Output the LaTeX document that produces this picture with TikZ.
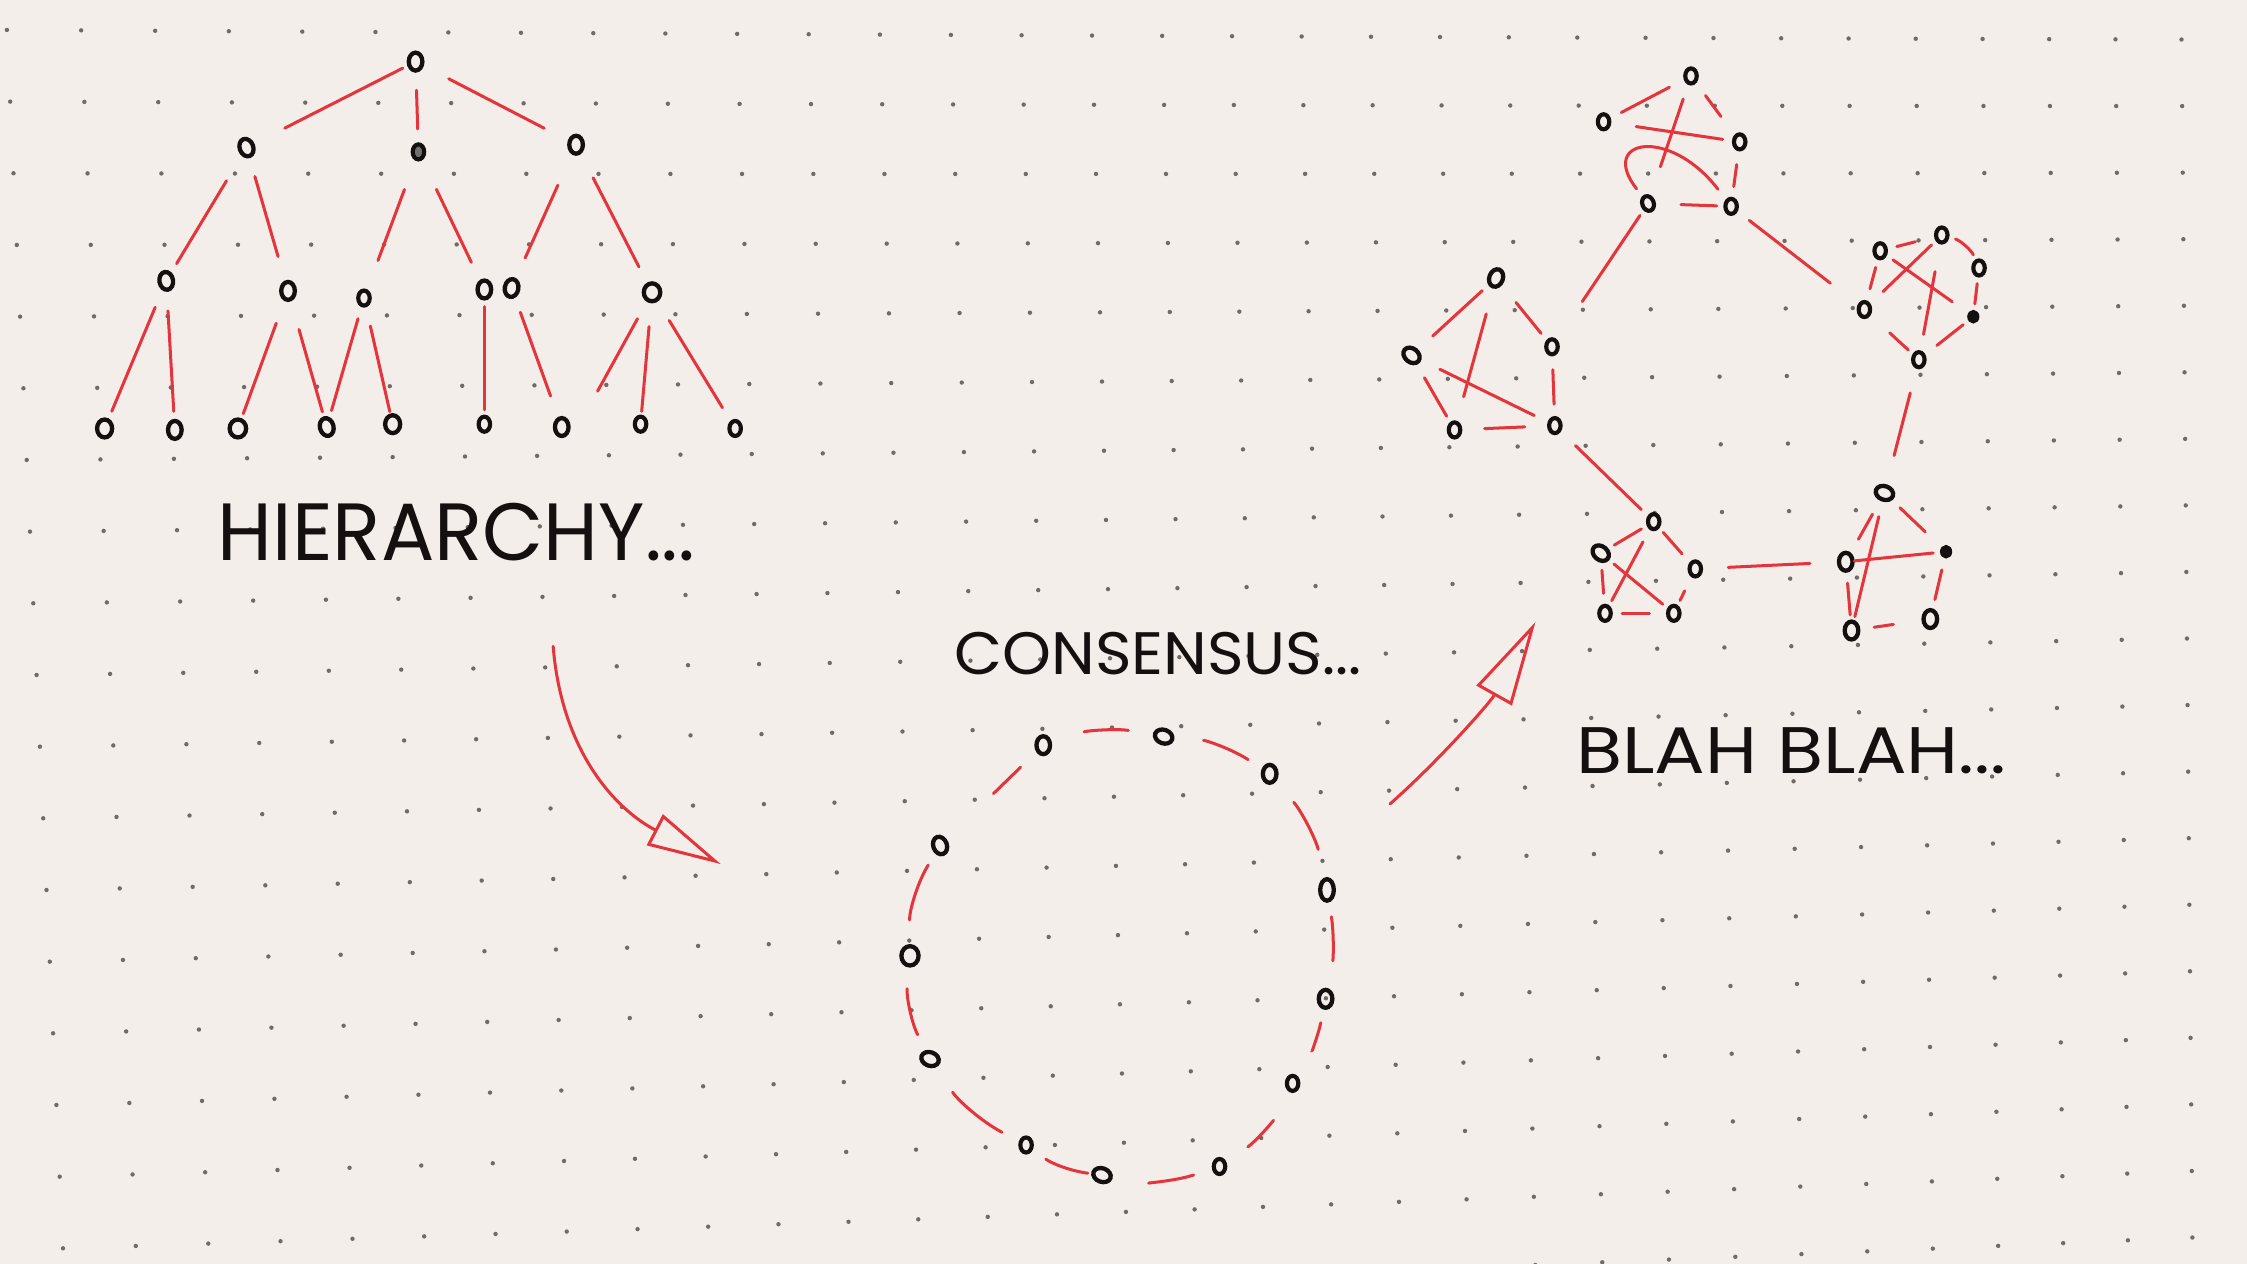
\documentclass[tikz,border=0pt]{standalone}
\usepackage{fontspec}
\setmainfont{Poppins}
\usepackage{graphicx}
\usetikzlibrary{shapes.geometric,arrows.meta}
\definecolor{paper}{RGB}{243,238,233}
\definecolor{pen}{RGB}{228,52,60}
\definecolor{ink}{RGB}{20,16,16}
\definecolor{dotc}{RGB}{112,106,104}
\tikzset{
  nd/.style={ellipse, draw=ink, line width=3pt, minimum width=9.5pt, minimum height=12.5pt, inner sep=0pt},
  nds/.style={ellipse, draw=ink, line width=2.9pt, minimum width=8pt, minimum height=10.5pt, inner sep=0pt},
  ndf/.style={ellipse, draw=ink, fill=ink, line width=1.5pt, minimum width=7pt, minimum height=8pt, inner sep=0pt},
  edge/.style={draw=pen, line width=2.1pt, line cap=round},
  lbl/.style={inner sep=0pt, text=ink},
}
\newcommand{\lnk}[5][]{\draw[edge, shorten <=#4pt, shorten >=#5pt] (#2.center) to[#1] (#3.center);}
\begin{document}
\begin{tikzpicture}[x=1pt,y=-1pt]
\fill[paper] (0,0) rectangle (1568,882);
\useasboundingbox (0,0) rectangle (1568,882);
% dotted paper
\begin{scope}
\clip (0,0) rectangle (1568,882);
\begin{scope}[scale=0.69782]
\foreach \i in {-1,...,31}{
  \foreach \j in {-9,...,10}{
    \pgfmathsetmacro{\dx}{33.3 + 73.7*(\i) - 0.137*(\i)*(\i) + (3.3 - 0.087*(\i))*(\j)}
    \pgfmathsetmacro{\dy}{603.3 - 0.883*(\i) - 0.0041*(\i)*(\i) + (71.67 - 0.165*(\i))*(\j)}
    \fill[dotc] (\dx,\dy) circle (2.2pt);
  }}
\end{scope}
\end{scope}

% ---------- hierarchy tree ----------
\node[nd] (r) at (290,43) {};
\node[nd, rotate=20] (a) at (172,103) {};
\node[nds, fill=ink!60] (b) at (292,106) {};
\node[nd] (c) at (402,101) {};
\node[nd, rotate=10] (d) at (116,196) {};
\node[nd] (e) at (201,203) {};
\node[nds] (f) at (254,208) {};
\node[nd] (g) at (338,202) {};
\node[nd, rotate=-10] (h) at (357,201) {};
\node[nd, minimum width=11.5pt] (k) at (455,204) {};
\node[nd, minimum width=10.5pt] (l1) at (73,299) {};
\node[nd] (l2) at (122,300) {};
\node[nd, minimum width=11.5pt] (l3) at (166,299) {};
\node[nd, rotate=15] (l4) at (228,298) {};
\node[nd, minimum width=10.5pt] (l5) at (274,296) {};
\node[nds] (l6) at (338,296) {};
\node[nd] (l7) at (392,298) {};
\node[nds] (l8) at (447,296) {};
\node[nds] (l9) at (513,299) {};
\coordinate (kx) at (417,273);

\lnk{r}{a}{10}{30}
\lnk{r}{b}{20}{16}
\lnk{r}{c}{26}{25}
\lnk{a}{d}{27}{14}
\lnk{a}{e}{21}{25}
\lnk{b}{f}{28}{28}
\lnk{b}{g}{29}{21}
\lnk{c}{h}{31}{23}
\lnk{c}{k}{26}{20}
\lnk{d}{l1}{20}{13}
\lnk{d}{l2}{21}{13}
\lnk{e}{l3}{24}{11}
\lnk{e}{l4}{28}{11}
\lnk{f}{l4}{15}{12}
\lnk{f}{l5}{20}{9}
\lnk{g}{l6}{12}{10}
\lnk{h}{l7}{18}{23}
\draw[edge, shorten <=21pt] (k.center) -- (kx);
\lnk{k}{l8}{24}{9}
\lnk{k}{l9}{23}{17}

\node[lbl] (hier) at (318.5,371) {\resizebox{333pt}{40pt}{HIERARCHY...}};

% ---------- consensus ring ----------
\node[nd] (n1) at (728,520) {};
\node[nd, rotate=70] (n2) at (812,514) {};
\node[nd] (n3) at (886,540) {};
\node[nd, minimum height=15pt] (n4) at (926,621) {};
\node[nd] (n5) at (925,697) {};
\node[nds] (n6) at (902,756) {};
\node[nds] (n7) at (851,814) {};
\node[nd, rotate=70] (n8) at (769,820) {};
\node[nds] (n9) at (716,799) {};
\node[nd, rotate=70] (n10) at (649,739) {};
\node[nd, minimum width=12pt, minimum height=13.5pt] (n11) at (635,667) {};
\node[nd, rotate=20] (n12) at (656,590) {};

\lnk{n12}{n1}{52}{22}
\lnk[bend left=14]{n1}{n2}{30}{25}
\lnk[bend left=14]{n2}{n3}{28}{18}
\lnk[bend left=14]{n3}{n4}{26}{29}
\lnk[bend left=10]{n4}{n5}{19}{27}
\lnk[bend left=10]{n5}{n6}{17}{27}
\lnk[bend left=14]{n6}{n7}{29}{24}
\lnk[bend left=14]{n7}{n8}{19}{33}
\lnk[bend left=14]{n8}{n9}{10}{17}
\lnk[bend left=14]{n9}{n10}{19}{28}
\lnk[bend left=16]{n10}{n11}{19}{23}
\lnk[bend left=16]{n11}{n12}{25}{16}

\node[lbl] (cons) at (808,456) {\resizebox{284pt}{29.5pt}{CONSENSUS...}};

% ---------- network ----------
% cluster A
\node[nds] (a1) at (1180,53) {};
\node[nds] (a2) at (1119,85) {};
\node[nds] (a3) at (1214,99) {};
\node[nds, rotate=20] (a4) at (1150,142) {};
\node[nds] (a5) at (1208,144) {};
\lnk{a2}{a1}{14}{17}
\lnk{a1}{a3}{17}{22}
\lnk{a2}{a3}{23}{12}
\lnk{a1}{a4}{17}{27}
\draw[edge, shorten <=13pt, shorten >=15pt] (a4.center) .. controls (1115,97) and (1165,88) .. (a5.center);
\lnk{a3}{a5}{16}{14}
\lnk{a4}{a5}{23}{10}
% cluster B
\node[nd, rotate=-20] (b1) at (1044,194) {};
\node[nd, rotate=50] (b2) at (985,248) {};
\node[nds] (b3) at (1083,242) {};
\node[nds] (b4) at (1015,300) {};
\node[nds] (b5) at (1085,297) {};
\lnk{b1}{b2}{13}{20}
\lnk{b1}{b3}{22}{12}
\lnk{b2}{b4}{18}{11}
\lnk{b3}{b5}{16}{15}
\lnk{b4}{b5}{21}{21}
\lnk{b1}{b4}{26}{24}
\lnk{b2}{b5}{22}{16}
% cluster C
\node[nds] (c1) at (1355,164) {};
\node[nds] (c2) at (1312,175) {};
\node[nds] (c3) at (1381,187) {};
\node[nds] (c4) at (1301,216) {};
\node[ndf] (c5) at (1377,221) {};
\node[nds] (c6) at (1339,251) {};
\lnk{c2}{c1}{12}{19}
\lnk[bend left=25]{c1}{c3}{10}{10}
\lnk{c2}{c4}{12}{15}
\lnk{c3}{c5}{11}{9}
\lnk{c5}{c6}{9}{16}
\lnk{c4}{c6}{24}{10}
\lnk{c2}{c5}{11}{18}
\lnk{c1}{c4}{10}{18}
\lnk{c1}{c6}{26}{18}
% cluster D
\node[nds] (d1) at (1154,364) {};
\node[nd, rotate=50] (d2) at (1117,386) {};
\node[nds] (d3) at (1183,397) {};
\node[nds] (d4) at (1120,428) {};
\node[nds] (d5) at (1168,428) {};
\lnk{d1}{d2}{10}{11}
\lnk{d1}{d3}{10}{14}
\lnk{d2}{d4}{12}{14}
\lnk{d3}{d5}{17}{10}
\lnk{d4}{d5}{12}{17}
\lnk{d4}{d1}{10}{16}
\lnk{d2}{d5}{12}{10}
% cluster E
\node[nd, rotate=70] (e1) at (1315,344) {};
\node[nd] (e2) at (1288,392) {};
\node[ndf] (e3) at (1358,385) {};
\node[nd] (e4) at (1292,440) {};
\node[nd] (e5) at (1347,432) {};
\lnk{e1}{e2}{17}{18}
\lnk{e1}{e3}{15}{20}
\lnk{e2}{e3}{6}{9}
\lnk{e1}{e4}{17}{10}
\lnk{e2}{e4}{15}{11}
\lnk{e3}{e5}{13}{14}
\lnk{e4}{e5}{16}{26}
% links between clusters
\lnk{a4}{b3}{10}{38}
\lnk{a5}{c4}{16}{30}
\lnk{c6}{e1}{24}{27}
\lnk{b5}{d1}{20}{12}
\lnk{d3}{e2}{23}{25}

\node[lbl] (blah) at (1250,524) {\resizebox{300pt}{32pt}{BLAH BLAH...}};

% ---------- arrows ----------
\coordinate (h1) at (386,451);
\coordinate (h2) at (503,603);
\draw[edge, -{Triangle[open, length=52pt, width=24pt]}] (h1) .. controls (392,525) and (430,565) .. (h2);
\coordinate (s1) at (970,561);
\coordinate (s2) at (1071.5,434);
\draw[edge, -{Triangle[open, length=59pt, width=28pt]}] (s1) .. controls (1005,530) and (1040,490) .. (s2);
\end{tikzpicture}
\end{document}
